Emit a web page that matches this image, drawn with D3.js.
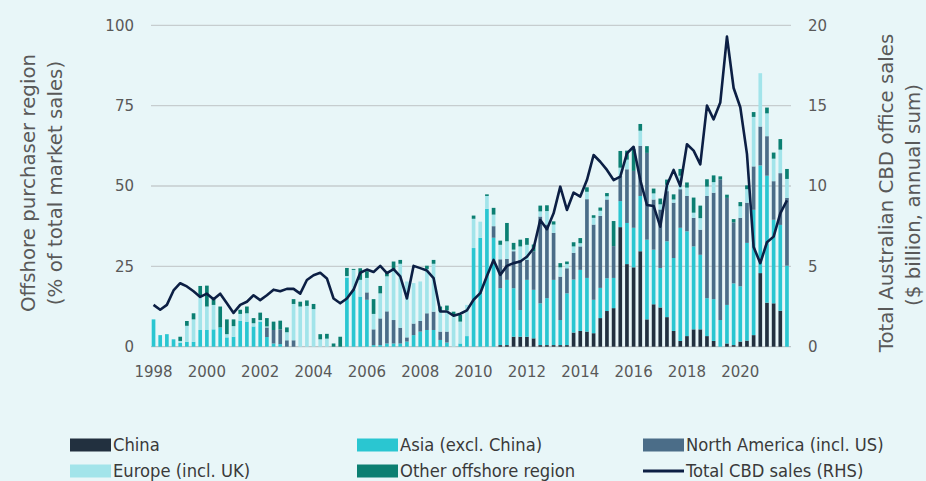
<!DOCTYPE html>
<html>
<head>
<meta charset="utf-8">
<script src="https://cdn.jsdelivr.net/npm/d3@7/dist/d3.min.js"></script>
<style>
  body { margin: 0; background: #e8f6f8; }
  svg { display: block; }
</style>
</head>
<body>
<svg id="chart" width="926" height="481"></svg>
<script>
// quarterly data, 1998 Q1 to 2021 Q4
var years = d3.range(1998, 2022);
var quarters = years.flatMap(function (y) { return [y + "Q1", y + "Q2", y + "Q3", y + "Q4"]; });
var yearTicks = ["1998", "2000", "2002", "2004", "2006", "2008", "2010", "2012", "2014", "2016", "2018", "2020"];
var leftTicks = [0, 25, 50, 75, 100];
var rightTicks = [0, 5, 10, 15, 20];

// % of total market sales by offshore purchaser region
var china = [0,0,0,0, 0,0,0,0, 0,0,0,0, 0,0,0,0, 0,0,0,0, 0,0,0,0, 0,0,0,0,
  0,0,0,0, 0,0,0,0, 0,0,0,0, 0,0,0,0, 0,0,0,0, 0,0,0,0,
  0.5,0.5,3.1,3.1, 3.1,2.6,0.5,0.5, 0.5,0.5,0.5,4.4, 4.9,4.7,4.2,8.9,
  11.1,12.0,37.2,25.7, 24.7,29.7,8.5,13.2, 12.2,9.2,4.9,1.8, 3.3,5.4,5.4,3.3,
  1.8,0,1.0,0.5, 1.6,1.9,3.6,22.9, 13.7,13.5,11.2,0];
var asia = [8.5,3.6,3.9,2.3, 1.2,1.5,1.5,5.2, 5.2,5.4,6.0,2.9, 3.1,8.1,7.8,6.3,
  7.8,3.0,1.0,0.8, 0,0,0,0, 0,0,0,0, 0,21.5,17.7,15.6,
  14.6,0.5,0.5,1.0, 1.0,1.0,1.6,3.6, 4.7,5.2,5.2,2.1, 1.3,0,1.0,3.3,
  30.7,33.9,42.9,33.9, 17.7,20.3,15.1,8.3, 17.7,15.1,13.0,14.6, 20.3,7.8,16.1,16.5,
  19.0,16.7,10.4,9.4, 10.2,9.4,8.1,12.8, 12.3,17.2,24.8,17.0, 12.3,23.6,22.7,35.2,
  32.6,25.8,23.2,11.8, 13.0,8.3,12.0,19.2, 17.2,30.4,39.0,33.5, 39.5,26.0,26.7,25.2];
var northAmerica = [0,0,0,0, 0,0,0,0, 0,0,0,0, 0,0,0,0, 0,3.0,4.2,4.6, 2.0,2.0,0,0, 0,0,0,0,
  0,0,0,0, 2.3,4.9,8.3,10.0, 7.3,4.9,1.3,3.6, 3.3,5.2,5.7,2.6, 3.4,0,0,0,
  0,0,0,3.6, 9.0,6.5,11.5,15.6, 6.2,12.0,27.0,22.9, 14.6,13.5,7.8,8.3,
  7.3,24.5,23.4,22.4, 24.5,9.9,7.8,16.7, 17.7,15.6,27.0,15.6, 18.2,15.6,17.2,12.0,
  11.0,8.9,7.8,31.8, 33.1,43.7,33.3,19.0, 21.3,12.5,13.5,12.1, 12.3,12.0,16.1,21.1];
var europe = [0,0,0,0, 0.6,5.0,7.0,10.4, 7.3,7.6,0,1.0, 3.3,2.1,2.6,1.0, 0.5,0.3,0,0,
  2.5,11.3,12.5,12.7, 11.7,2.3,2.5,0, 0,0.5,6.2,5.2,
  4.5,4.8,7.8,10.9, 15.8,19.9,17.4,12.6, 12.3,13.8,14.9,6.3, 6.6,9.5,6.8,9.7,
  9.1,5.0,4.0,3.6, 4.5,5.5,0.5,4.2, 4.7,0,1.6,4.2, 2.6,2.9,1.3,2.0,
  1.0,2.3,2.1,1.6, 1.0,0,2.6,3.0, 0,4.7,0,1.9, 1.6,2.0,1.0,4.2,
  2.6,1.6,3.6,2.9, 3.3,0,0,0, 3.6,4.2,15.4,16.6, 7.1,7.0,7.3,5.9];
var other = [0,0,0,0, 1.3,1.5,1.9,3.3, 6.5,2.1,6.5,4.6, 2.1,1.3,2.1,1.6, 2.3,2.6,2.6,2.7,
  1.5,1.5,1.5,1.7, 1.6,1.6,1.5,1.0, 3.1,2.5,0.3,3.6,
  2.1,4.6,2.3,1.5, 2.4,1.2,0,0, 0,1.0,1.2,1.5, 1.5,1.4,2.1,0,
  1.0,0,0.5,2.1, 1.3,5.7,2.1,2.1, 2.1,2.1,1.8,1.8, 1.0,1.3,0.8,1.3,
  1.6,1.4,0.8,1.0, 1.0,7.8,5.2,2.8, 6.8,2.1,2.1,1.5, 1.8,1.6,1.6,2.1,
  1.6,4.7,3.9,2.3, 2.1,1.0,1.0,1.0, 1.3,1.2,1.5,0, 1.8,1.9,3.3,3.1];

// total CBD office sales, $ billion annual sum (RHS)
var totalSales = [2.6,2.3,2.6,3.5, 3.95,3.75,3.45,3.1, 3.3,2.95,3.3,2.7, 2.1,2.6,2.8,3.2,
  2.9,3.2,3.55,3.45, 3.6,3.6,3.3,4.15, 4.45,4.6,4.25,3.0, 2.7,3.0,3.55,4.6,
  4.8,4.65,5.03,4.58, 4.83,4.37,3.0,5.03, 4.89,4.74,4.27,2.19, 2.19,1.93,2.05,2.26,
  2.92,3.33,4.4,5.4, 4.47,5.03,5.2,5.3, 5.6,6.13,7.89,7.31, 8.3,9.96,8.51,9.59,
  9.34,10.37,11.93,11.51, 11.0,10.37,10.58,12.03, 12.44,10.37,8.82,8.76, 7.47,10.06,11.0,10.0,
  12.6,12.2,11.35,15.0, 14.15,15.2,19.3,16.1, 14.9,12.0,6.2,5.2, 6.5,6.85,8.3,9.1];

var seriesKeys = ["china", "asia", "northAmerica", "europe", "other"];
var seriesNames = ["China", "Asia (excl. China)", "North America (incl. US)", "Europe (incl. UK)", "Other offshore region"];
var colors = ["#22303f", "#2ac6d1", "#4b6d88", "#a2e4ea", "#0b7f72"];

var table = quarters.map(function (q, i) {
  return { q: q, china: china[i], asia: asia[i], northAmerica: northAmerica[i], europe: europe[i], other: other[i], total: totalSales[i] };
});

var svg = d3.select("#chart");
var textColor = "#595959";
var font = "DejaVu Sans, Verdana, sans-serif";

var x = d3.scaleBand().domain(quarters).range([150.2, 790.3]).paddingInner(0.45).paddingOuter(0.225);
var yLeft = d3.scaleLinear().domain([0, 100]).range([346.7, 25.3]);
var yRight = d3.scaleLinear().domain([0, 20]).range([346.7, 25.3]);

svg.append("rect").attr("width", 926).attr("height", 481).attr("fill", "#e8f6f8");

// gridlines
svg.append("g")
  .selectAll("line")
  .data(leftTicks)
  .enter()
  .append("line")
  .attr("x1", 151).attr("x2", 791)
  .attr("y1", function (d) { return yLeft(d); })
  .attr("y2", function (d) { return yLeft(d); })
  .attr("stroke", function (d) { return d === 0 ? "#bdc5c8" : "#c6cdcf"; })
  .attr("stroke-width", 1.3);

// stacked bars
var stacked = d3.stack().keys(seriesKeys)(table);
svg.append("g")
  .selectAll("g")
  .data(stacked)
  .enter()
  .append("g")
  .attr("fill", function (d, i) { return colors[i]; })
  .selectAll("rect")
  .data(function (d) { return d; })
  .enter()
  .append("rect")
  .attr("x", function (d) { return x(d.data.q); })
  .attr("width", x.bandwidth())
  .attr("y", function (d) { return yLeft(d[1]); })
  .attr("height", function (d) { return yLeft(d[0]) - yLeft(d[1]); });

// total sales line
var line = d3.line()
  .x(function (d) { return x(d.q) + x.bandwidth() / 2; })
  .y(function (d) { return yRight(d.total); })
  .curve(d3.curveLinear);

svg.append("path")
  .datum(table)
  .attr("d", line)
  .style("fill", "none")
  .style("stroke", "#0c1f44")
  .style("stroke-width", 2.6)
  .style("stroke-linejoin", "round");

// left axis labels
svg.append("g")
  .selectAll("text")
  .data(leftTicks)
  .enter()
  .append("text")
  .attr("x", 134)
  .attr("y", function (d) { return yLeft(d); })
  .attr("dy", "0.35em")
  .attr("text-anchor", "end")
  .style("font-family", font)
  .style("font-size", "15px")
  .style("fill", textColor)
  .text(function (d) { return d; });

// right axis labels
svg.append("g")
  .selectAll("text")
  .data(rightTicks)
  .enter()
  .append("text")
  .attr("x", 808)
  .attr("y", function (d) { return yRight(d); })
  .attr("dy", "0.35em")
  .style("font-family", font)
  .style("font-size", "15px")
  .style("fill", textColor)
  .text(function (d) { return d; });

// year labels
svg.append("g")
  .selectAll("text")
  .data(yearTicks)
  .enter()
  .append("text")
  .attr("x", function (d) { return x(d + "Q1") + x.bandwidth() / 2; })
  .attr("y", 372)
  .attr("dy", "0.35em")
  .attr("text-anchor", "middle")
  .style("font-family", font)
  .style("font-size", "15px")
  .style("fill", textColor)
  .text(function (d) { return d; });

// axis titles
function rotatedTitle(cx, cy, str) {
  svg.append("text")
    .attr("text-anchor", "middle")
    .attr("dy", "0.35em")
    .attr("transform", "translate(" + cx + "," + cy + ")rotate(-90)")
    .style("font-family", font)
    .style("font-size", "19.8px")
    .style("fill", textColor)
    .text(str);
}
rotatedTitle(28, 183, "Offshore purchaser region");
rotatedTitle(55, 183, "(% of total market sales)");
rotatedTitle(886, 193, "Total Australian CBD office sales");
rotatedTitle(913, 195, "($ billion, annual sum)");

// legend
var legendItems = [
  { name: seriesNames[0], color: colors[0], x: 70, y: 445 },
  { name: seriesNames[1], color: colors[1], x: 357, y: 445 },
  { name: seriesNames[2], color: colors[2], x: 643, y: 445 },
  { name: seriesNames[3], color: colors[3], x: 70, y: 471 },
  { name: seriesNames[4], color: colors[4], x: 357, y: 471 },
  { name: "Total CBD sales (RHS)", color: "#0c1f44", x: 643, y: 471, line: true }
];
var legend = svg.append("g")
  .selectAll("g")
  .data(legendItems)
  .enter()
  .append("g")
  .attr("transform", function (d) { return "translate(" + d.x + "," + d.y + ")"; });

legend.filter(function (d) { return !d.line; })
  .append("rect")
  .attr("x", 0).attr("y", -6.5)
  .attr("width", 41).attr("height", 13)
  .attr("fill", function (d) { return d.color; });

legend.filter(function (d) { return d.line; })
  .append("line")
  .attr("x1", 0).attr("x2", 41)
  .attr("y1", 0).attr("y2", 0)
  .attr("stroke", function (d) { return d.color; })
  .attr("stroke-width", 3);

legend.append("text")
  .attr("x", 43)
  .attr("dy", "0.35em")
  .style("font-family", "DejaVu Sans Condensed, sans-serif")
  .style("font-stretch", "condensed")
  .style("font-size", "18.2px")
  .style("fill", "#3a3a3a")
  .text(function (d) { return d.name; });
</script>
</body>
</html>
